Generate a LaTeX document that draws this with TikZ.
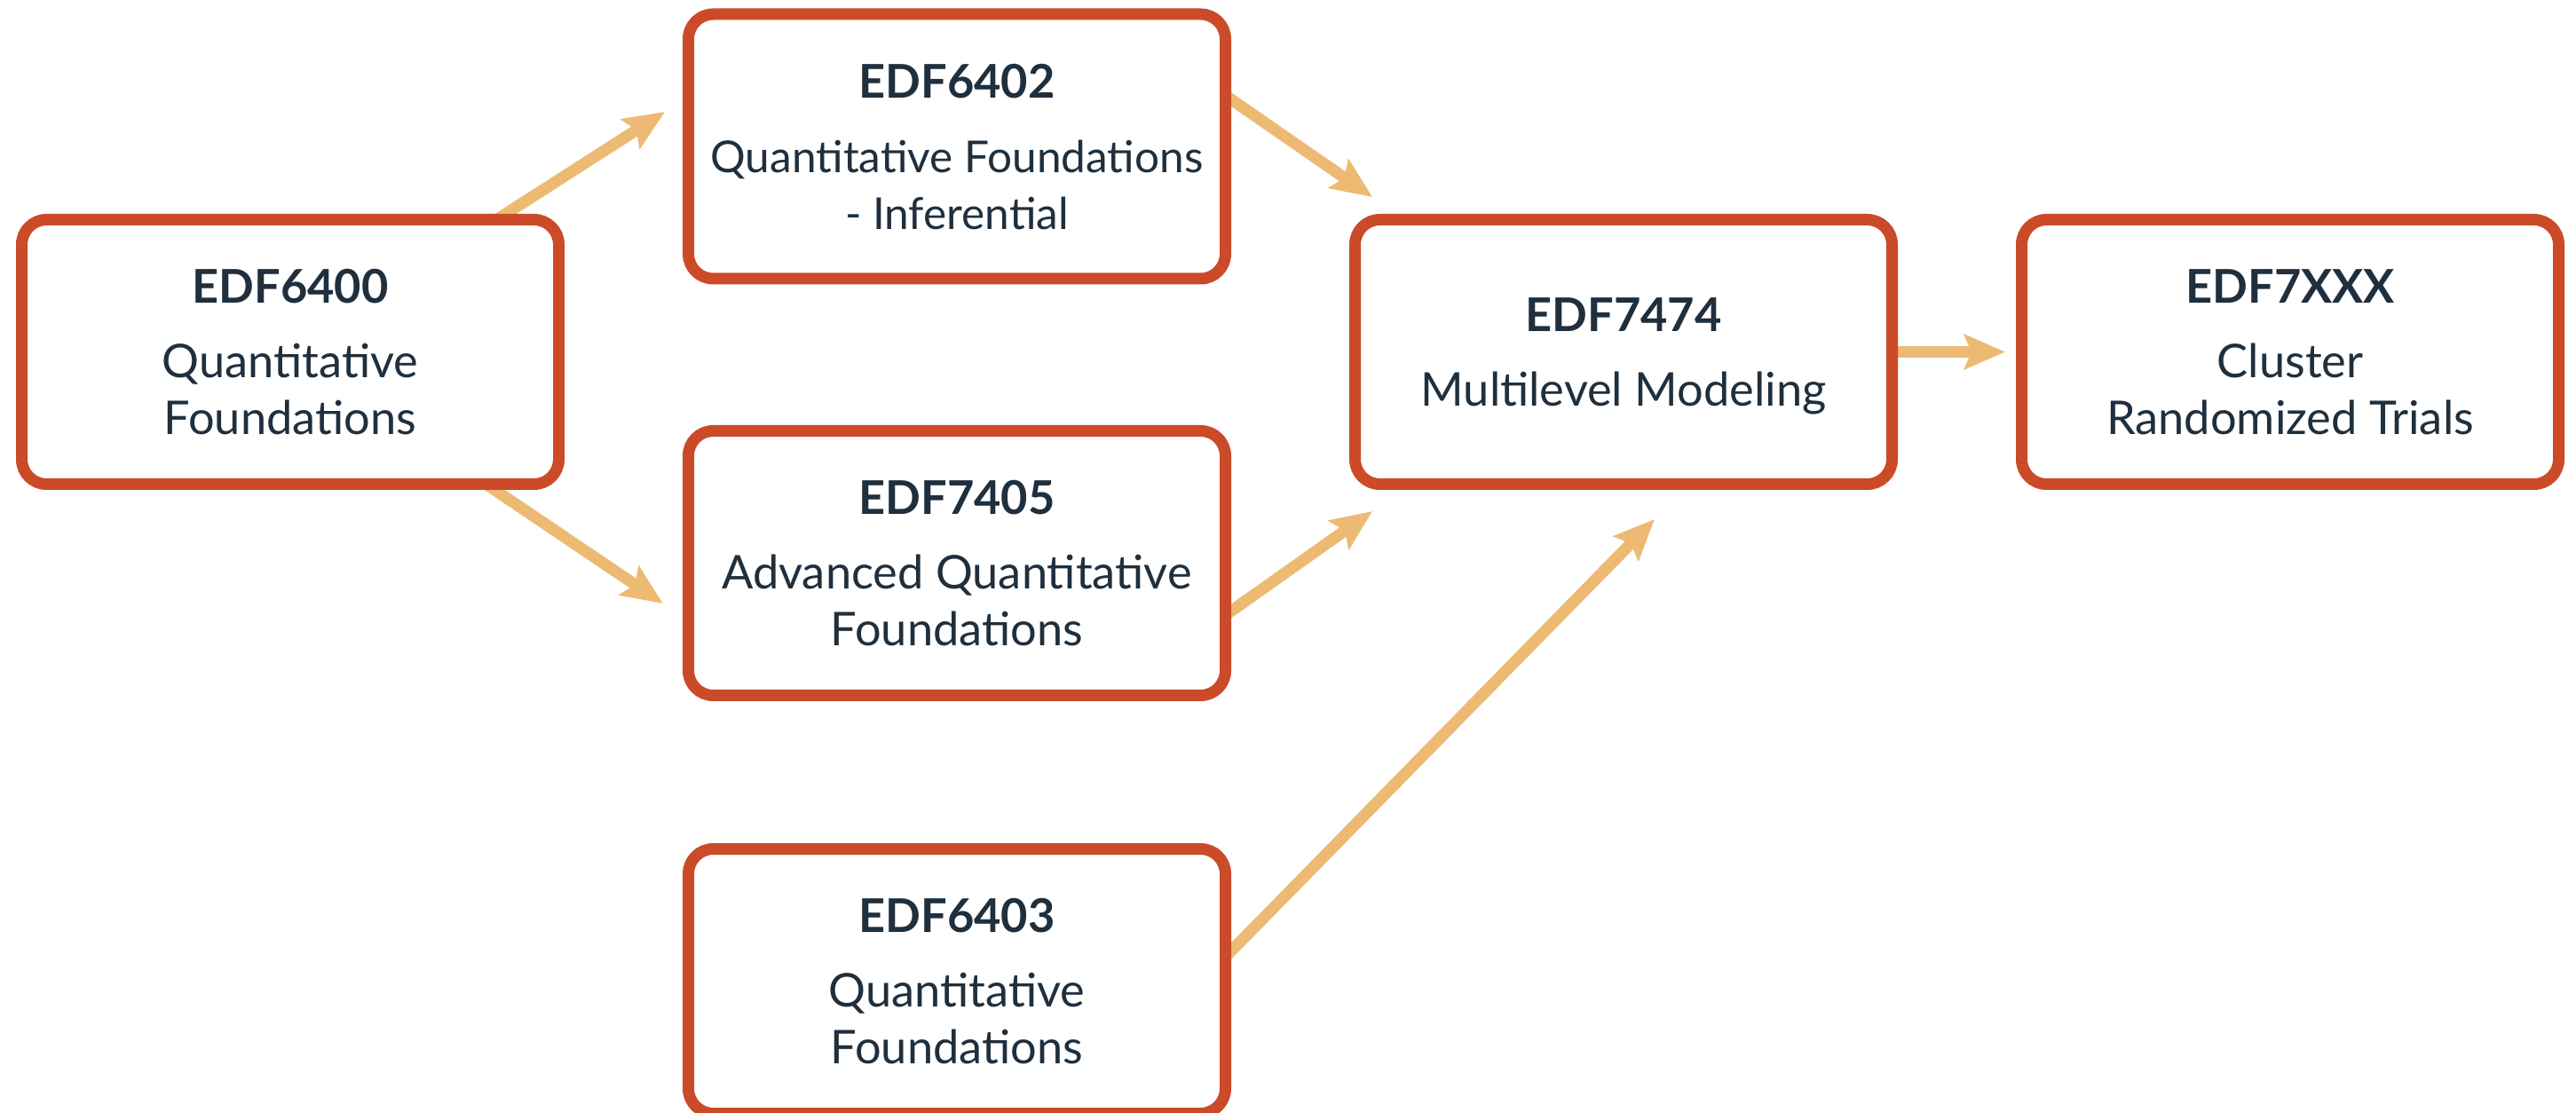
\documentclass[tikz,border=0pt]{standalone}
\usepackage{fontspec}
\setmainfont{Lato}
\usetikzlibrary{positioning, arrows.meta, backgrounds}
\definecolor{boxred}{HTML}{CB4A28}
\definecolor{flowtan}{HTML}{EDBA74}
\definecolor{inkblue}{HTML}{1F2F3D}

\begin{document}
\begin{tikzpicture}[
    course/.style={
        draw=boxred,
        fill=white,
        line width=0.13cm,
        rounded corners=0.28cm,
        align=center,
        text=inkblue,
        font=\fontsize{14.9}{18.2}\selectfont,
        minimum width=6.05cm,
        minimum height=2.98cm,
        text depth=0pt
    },
    flow/.style={
        draw=flowtan,
        line width=0.13cm,
        shorten <=-0.2cm,
        -{Stealth[length=0.46cm, width=0.39cm, inset=0.08cm]}
    }
]
\useasboundingbox (0,0) rectangle (29.02,-12.54);

% Course 1: EDF6400 (left)
\node[course] (a) at (3.27,-3.965) {
    \textbf{EDF6400}\\[0.2cm]
    Quantitative\\
    Foundations
};

% Course 2: EDF6402 (upper middle) -- body set a bit smaller to fit
\node[course, anchor=west] (b) at ([xshift=1.33cm, yshift=2.315cm]a.east) {
    \textbf{EDF6402}\\[0.2cm]
    \fontsize{14.1}{18.2}\selectfont Quantitative Foundations\\
    \fontsize{14.1}{18.2}\selectfont - Inferential
};

% Course 3: EDF7405 (middle)
\node[course, anchor=west] (c) at ([xshift=1.33cm, yshift=-2.38cm]a.east) {
    \textbf{EDF7405}\\[0.2cm]
    Advanced Quantitative\\
    Foundations
};

% Course 4: EDF6403 (below EDF7405)
\node[course, below=1.6cm of c] (d) {
    \textbf{EDF6403}\\[0.2cm]
    Quantitative\\
    Foundations
};

% Course 5: EDF7474 (same row as EDF6400)
\node[course, right=8.84cm of a] (e) {
    \textbf{EDF7474}\\[0.2cm]
    Multilevel Modeling
};

% Course 6: EDF7XXX (right)
\node[course, right=1.33cm of e] (f) {
    \textbf{EDF7XXX}\\[0.2cm]
    Cluster\\
    Randomized Trials
};

% prerequisite arrows (behind the boxes)
\begin{scope}[on background layer]
\draw[flow] (a.center) -- ([shift={(-0.2,0.39)}]b.west);
\draw[flow] (a.center) -- ([shift={(-0.22,-0.455)}]c.west);
\draw[flow] ([yshift=0.53cm]b.east) -- ([shift={(0.26,0.19)}]e.north west);
\draw[flow] ([yshift=-0.54cm]c.east) -- ([shift={(0.26,-0.24)}]e.south west);
\draw[flow] ([yshift=0.34cm]d.east) -- ([shift={(0.35,-0.33)}]e.south);
\draw[flow, shorten >=0.12cm] (e) -- (f);
\end{scope}

\end{tikzpicture}
\end{document}
